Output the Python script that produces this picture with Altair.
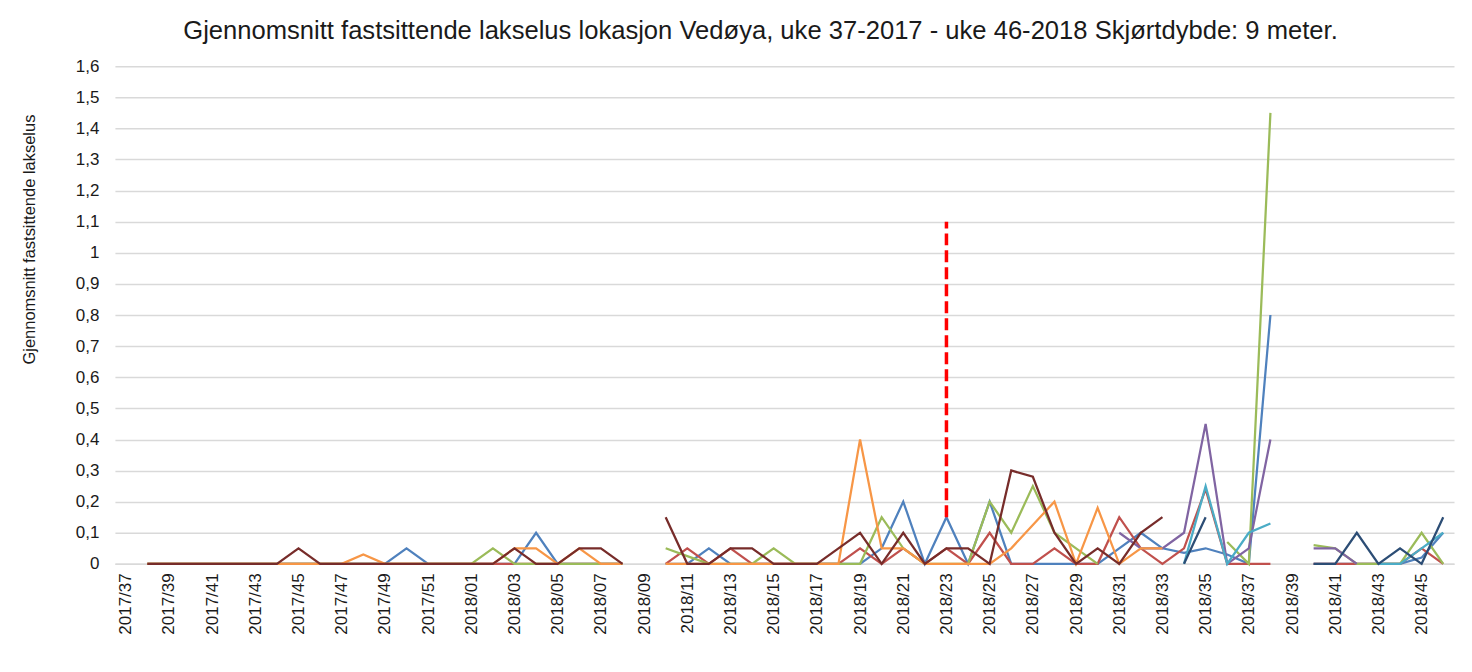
import altair as alt
import pandas as pd

N = None

weeks = [f"2017/{w:02d}" for w in range(37, 53)] + [f"2018/{w:02d}" for w in range(1, 47)]

# index: 0 = 2017/37 ... 15 = 2017/52, 16 = 2018/01 ... 61 = 2018/46
blue = ([N] + [0]*12 + [0.05] + [0]*5 + [0.1] + [0]*4 + [N] +
        [0, 0, 0.05, 0, 0, 0, 0, 0, 0, 0, 0.05, 0.2, 0, 0.15, 0, 0.2, 0, 0, 0, 0, 0,
         0.05, 0.1, 0.05, 0.035, 0.05, 0.03, 0, 0.8] + [N] +
        [0, 0, 0, 0, 0, 0.02, 0.1])
red = ([N] + [0]*23 + [N] +
       [0, 0.05, 0, 0.05, 0, 0, 0, 0, 0, 0.05, 0, 0.05, 0, 0.05, 0, 0.1, 0, 0, 0.05, 0, 0,
        0.15, 0.05, 0, 0.05, 0.24, 0, 0, 0] + [N] +
       [0, 0, 0, 0, 0, 0.05, 0])
green = ([N] + [0]*16 + [0.05] + [0]*6 + [N] +
         [0.05, 0.025, 0, 0, 0, 0.05, 0, 0, 0, 0, 0.15, 0.05, 0, 0, 0, 0.2, 0.1, 0.25, 0.1, 0.05, 0,
          N, N, N, N, N, 0.07, 0, 1.45] + [N] +
         [0.06, 0.05, 0, 0, 0, 0.1, 0])
purple = ([N]*46 + [0.1, 0.05, 0.05, 0.1, 0.45, 0, 0.05, 0.4] + [N] +
          [0.05, 0.05, 0, N, N, N, N])
aqua = ([N]*49 + [0, 0.25, 0, 0.1, 0.13] + [N] +
        [N, N, N, 0, 0, 0.05, 0.1])
orange = ([N] + [0]*10 + [0.03] + [0]*6 + [0.05, 0.05, 0, 0.05, 0, 0] + [N] +
          [0]*9 + [0.4, 0.05, 0.05, 0, 0, 0, 0, 0.05, 0.125, 0.2, 0, 0.18, 0, 0.05, 0.05] +
          [N]*13)
navy = ([N]*49 + [0, 0.15] + [N]*4 +
        [0, 0, 0.1, 0, 0.05, 0, 0.15])
maroon = ([N] + [0]*7 + [0.05] + [0]*9 + [0.05, 0, 0, 0.05, 0.05, 0] + [N] +
          [0.15, 0, 0, 0.05, 0.05, 0, 0, 0, 0.05, 0.1, 0, 0.1, 0, 0.05, 0.05, 0, 0.3, 0.28, 0.1, 0,
           0.05, 0, 0.1, 0.15] + [N]*13)

series_names = ["Merd 1", "Merd 2", "Merd 3", "Merd 4", "Merd 5", "Merd 6", "Merd 7", "Merd 8"]
series_values = [blue, red, green, purple, aqua, orange, navy, maroon]
series_colors = ["#4F81BD", "#C0504D", "#9BBB59", "#8064A2", "#4BACC6", "#F79646", "#2C4D75", "#772C2A"]

treatment_week = ["2018/23"]
treatment_from = [0.15]
treatment_to = [1.1]

y_ticks = [round(0.1 * k, 1) for k in range(17)]

rows = []
for name, vals in zip(series_names, series_values):
    assert len(vals) == len(weeks), (name, len(vals))
    for w, v in zip(weeks, vals):
        rows.append({"week": w, "series": name, "value": v})
df = pd.DataFrame(rows)

rule_df = pd.DataFrame({"week": treatment_week, "y0": treatment_from, "y1": treatment_to})

FONT = "Liberation Sans"

x_scale = alt.Scale(type="point", domain=weeks, padding=0.5)
x_axis = alt.Axis(
    title=None,
    values=weeks[0::2],
    labelAngle=270,
    labelFontSize=17,
    labelFont=FONT,
    labelColor="#1a1a1a",
    labelPadding=9,
    ticks=False,
    domainColor="#D9D9D9",
    domainWidth=1.5,
    grid=False,
)
x_enc = alt.X("week:O", scale=x_scale, axis=x_axis)

y_scale = alt.Scale(domain=[0, 1.6], nice=False)
y_axis = alt.Axis(
    title="Gjennomsnitt fastsittende lakselus",
    titleFont=FONT,
    titleFontSize=16.5,
    titleFontWeight="normal",
    titleColor="#1a1a1a",
    titleAngle=270,
    titleAlign="center",
    titleBaseline="middle",
    titleX=-85,
    titleY=173,
    values=y_ticks,
    labelExpr="replace(format(datum.value, '.1~f'), '.', ',')",
    labelFontSize=17,
    labelFont=FONT,
    labelColor="#1a1a1a",
    labelPadding=16,
    ticks=False,
    domain=False,
    grid=True,
    gridColor="#D9D9D9",
    gridWidth=1.5,
)
y_enc = alt.Y("value:Q", scale=y_scale, axis=y_axis)

layers = []
for name, color in zip(series_names, series_colors):
    layer = (
        alt.Chart(df)
        .transform_filter(alt.datum.series == name)
        .mark_line(color=color, strokeWidth=2.25, strokeJoin="miter", strokeCap="butt")
        .encode(x=x_enc, y=y_enc)
    )
    layers.append(layer)

rule = (
    alt.Chart(rule_df)
    .mark_rule(color="#FF0000", strokeWidth=3.5, strokeDash=[12, 5])
    .encode(x=alt.X("week:O", scale=x_scale, axis=x_axis),
            y=alt.Y("y0:Q", scale=y_scale, axis=y_axis), y2="y1:Q")
)

chart = (
    alt.layer(*layers, rule)
    .properties(
        width=1340,
        height=498,
        background="white",
        autosize=alt.AutoSizeParams(type="none"),
        padding={"left": 107, "top": 58, "right": 10, "bottom": 100},
        title=alt.TitleParams(
            "Gjennomsnitt fastsittende lakselus lokasjon Vedøya, uke 37-2017 - uke 46-2018 Skjørtdybde: 9 meter.",
            font=FONT,
            fontSize=25.6,
            fontWeight="normal",
            color="#1a1a1a",
            anchor="middle",
            dx=-24,
            offset=13,
        ),
    )
    .configure_view(stroke=None)
)

chart.save("out.html", embed_options={"renderer": "svg", "actions": False})
